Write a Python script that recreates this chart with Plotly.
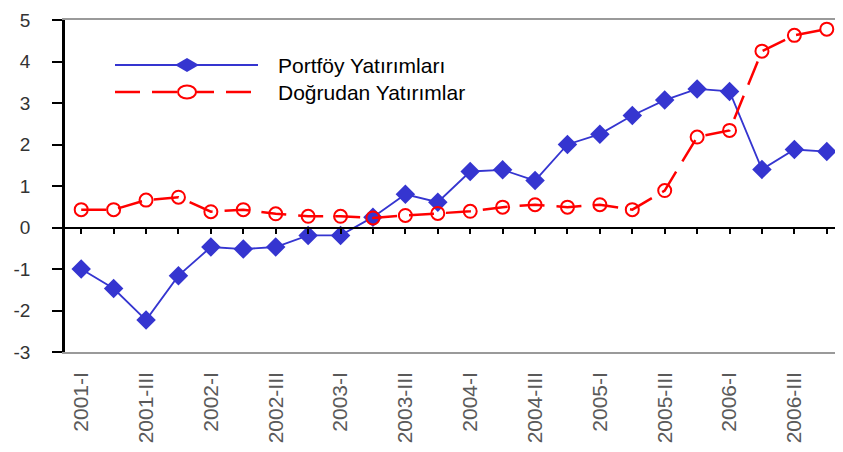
import plotly.graph_objects as go

quarters = ["2001-I", "2001-II", "2001-III", "2001-IV",
            "2002-I", "2002-II", "2002-III", "2002-IV",
            "2003-I", "2003-II", "2003-III", "2003-IV",
            "2004-I", "2004-II", "2004-III", "2004-IV",
            "2005-I", "2005-II", "2005-III", "2005-IV",
            "2006-I", "2006-II", "2006-III", "2006-IV"]
portfoy = [-1.00, -1.47, -2.23, -1.16, -0.47, -0.52, -0.47, -0.19,
           -0.19, 0.25, 0.80, 0.61, 1.35, 1.39, 1.13, 2.00,
           2.25, 2.70, 3.07, 3.34, 3.28, 1.40, 1.88, 1.83]
dogrudan = [0.43, 0.43, 0.66, 0.73, 0.38, 0.43, 0.33, 0.27,
            0.27, 0.23, 0.29, 0.34, 0.39, 0.49, 0.55, 0.49,
            0.55, 0.43, 0.89, 2.18, 2.34, 4.25, 4.63, 4.78]
series_names = ["Portföy Yatırımları", "Doğrudan Yatırımlar"]
x_tick_labels = quarters[::2]
y_tick_vals = [-3, -2, -1, 0, 1, 2, 3, 4, 5]
y_tick_text = ["-3", "-2", "-1", "0", "1", "2", "3", "4", "5"]

BLUE = "#3535d0"
RED = "#ff0000"
RED_DASH = "25px,12px"
FONT = "Liberation Sans, Arial, sans-serif"

# the page body has an 8px margin, so the figure is sized/offset to compensate
OFF = 8
W, H = 843 - OFF, 452 - OFF
ML, MR, MT, MB = 65 - OFF, 0, 12, 100
PW, PH = W - ML - MR, H - MT - MB

def px2paper(px, py):
    # page pixel -> paper fraction
    return (px - OFF - ML) / PW, (H - MB - (py - OFF)) / PH

fig = go.Figure()
fig.add_trace(go.Scatter(
    x=quarters, y=portfoy, name=series_names[0], mode="lines+markers",
    line=dict(color=BLUE, width=1.8),
    marker=dict(symbol="diamond", size=15, color=BLUE),
    showlegend=False))
fig.add_trace(go.Scatter(
    x=quarters, y=dogrudan, name=series_names[1], mode="lines+markers",
    xaxis="x2",
    line=dict(color=RED, width=2.5, dash=RED_DASH),
    marker=dict(symbol="circle-open", size=13, color=RED, line=dict(width=2, color=RED)),
    showlegend=False))

# custom legend (long sample lines as in the reference)
rows = [(65, BLUE, "solid", 1.8, "diamond"), (92, RED, RED_DASH, 2.5, "circle")]
for i, (py, col, dash, lw, sym) in enumerate(rows):
    x0, yy = px2paper(115, py)
    x1, _ = px2paper(258, py)
    xm, _ = px2paper(187, py)
    xt, _ = px2paper(276, py)
    fig.add_shape(type="line", xref="paper", yref="paper", x0=x0, x1=x1, y0=yy, y1=yy,
                  line=dict(color=col, width=lw, dash=dash))
    if sym == "diamond":
        fig.add_shape(type="path", xref="paper", yref="paper", xsizemode="pixel", ysizemode="pixel",
                      xanchor=xm, yanchor=yy, path="M-12,0 L0,7 L12,0 L0,-7 Z",
                      fillcolor=col, line=dict(color=col, width=0))
    else:
        fig.add_shape(type="circle", xref="paper", yref="paper", xsizemode="pixel", ysizemode="pixel",
                      xanchor=xm, yanchor=yy, x0=-9, x1=9, y0=-6.5, y1=6.5,
                      fillcolor="white", line=dict(color=col, width=2))
    fig.add_annotation(x=xt, y=yy, xref="paper", yref="paper", text=series_names[i],
                       showarrow=False, xanchor="left", yanchor="middle",
                       font=dict(family=FONT, size=21, color="#000000"))

fig.update_layout(
    width=W, height=H,
    margin=dict(l=ML, r=MR, t=MT, b=MB, autoexpand=False),
    paper_bgcolor="white", plot_bgcolor="white",
    font=dict(family=FONT),
    xaxis=dict(
        type="category", categoryorder="array", categoryarray=quarters,
        range=[-0.5, 23.5], automargin=False,
        tickmode="array", tickvals=x_tick_labels, ticktext=x_tick_labels,
        tickangle=-90, ticks="", ticklabelstandoff=10,
        ticklabeloverflow="allow",
        tickfont=dict(family=FONT, size=21, color="#5a5a5a"),
        showgrid=False, zeroline=False,
        showline=True, linecolor="#9a9a9a", linewidth=1.5, mirror=True,
    ),
    xaxis2=dict(
        type="category", categoryorder="array", categoryarray=quarters,
        range=[-0.5, 23.5], overlaying="x", anchor="free", position=3 / 8,
        side="bottom", showticklabels=False, automargin=False,
        tickmode="linear", tick0=0, dtick=0.5,
        ticks="outside", ticklen=5, tickwidth=2, tickcolor="#000000",
        showline=True, linecolor="#000000", linewidth=2,
        showgrid=False, zeroline=False,
    ),
    yaxis=dict(
        range=[-3, 5], tickmode="array", tickvals=y_tick_vals, ticktext=y_tick_text,
        automargin=False, ticklabeloverflow="allow",
        ticks="outside", ticklen=10, tickwidth=1.5, tickcolor="#000000",
        ticklabelstandoff=18,
        tickfont=dict(family=FONT, size=19, color="#333333"),
        showgrid=False, zeroline=False,
        showline=True, linecolor="#000000", linewidth=2.5,
    ),
)

fig.write_html("out.html")
